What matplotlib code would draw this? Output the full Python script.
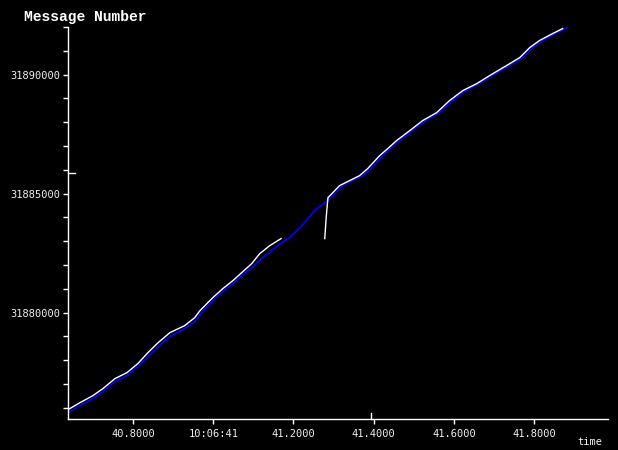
import matplotlib
matplotlib.use("Agg")
import matplotlib.pyplot as plt
from matplotlib.ticker import MultipleLocator, FuncFormatter
import matplotlib.transforms as mtransforms

# ---- data (time in seconds past 10:06:00, message number) ----
white_t = [40.638, 40.668, 40.700, 40.725, 40.755, 40.785, 40.812, 40.835, 40.860,
           40.892, 40.929, 40.954, 40.967, 40.999, 41.024, 41.049, 41.071, 41.096,
           41.116, 41.141, 41.169]
white_n = [31875924, 31876218, 31876512, 31876806, 31877227, 31877479, 31877857,
           31878277, 31878697, 31879160, 31879454, 31879790, 31880084, 31880630,
           31881008, 31881345, 31881681, 31882059, 31882479, 31882815, 31883109]

white2_t = [41.278, 41.281, 41.283, 41.286, 41.291, 41.315, 41.340, 41.365, 41.385,
            41.415, 41.435, 41.457, 41.490, 41.522, 41.557, 41.589, 41.622, 41.657,
            41.689, 41.731, 41.764, 41.789, 41.813, 41.846, 41.871]
white2_n = [31883109, 31883866, 31884286, 31884832, 31884916, 31885337, 31885547,
            31885757, 31886051, 31886597, 31886891, 31887227, 31887648, 31888068,
            31888404, 31888908, 31889328, 31889623, 31889959, 31890379, 31890715,
            31891135, 31891429, 31891724, 31891934]

blue_t = [40.638, 40.668, 40.700, 40.725, 40.755, 40.785, 40.812, 40.835, 40.860,
          40.892, 40.929, 40.954, 40.967, 40.999, 41.024, 41.049, 41.071, 41.096,
          41.124, 41.161, 41.191, 41.221, 41.253, 41.286, 41.323, 41.348, 41.373,
          41.393, 41.423, 41.442, 41.465, 41.497, 41.530, 41.564, 41.597, 41.629,
          41.664, 41.696, 41.739, 41.771, 41.796, 41.821, 41.853, 41.883]
blue_n = [31875798, 31876092, 31876386, 31876680, 31877101, 31877353, 31877731,
          31878109, 31878529, 31878992, 31879328, 31879622, 31879916, 31880504,
          31880882, 31881219, 31881555, 31881891, 31882311, 31882815, 31883152,
          31883656, 31884286, 31884706, 31885337, 31885547, 31885757, 31886051,
          31886597, 31886891, 31887227, 31887648, 31888068, 31888404, 31888908,
          31889328, 31889623, 31889959, 31890379, 31890715, 31891135, 31891429,
          31891724, 31891976]

cursor_t = 41.393
cursor_n = 31885882

x_range = (40.638, 41.984)
y_range = (31875530, 31892000)

title = "Message Number"
x_label = "time"

fig = plt.figure(figsize=(6.18, 4.5), dpi=100, facecolor="black")
ax = fig.add_axes([68/618, 31/450, 540/618, 392/450], facecolor="black")

ax.plot(blue_t, blue_n, color="#0000ff", lw=1.3)
ax.plot(white_t, white_n, color="white", lw=1.0)
ax.plot(white2_t, white2_n, color="white", lw=1.0)

ax.set_xlim(*x_range)
ax.set_ylim(*y_range)

for s in ["top", "right"]:
    ax.spines[s].set_visible(False)
for s in ["left", "bottom"]:
    ax.spines[s].set_color("white")
    ax.spines[s].set_linewidth(1.0)

ax.yaxis.set_major_locator(MultipleLocator(5000))
ax.yaxis.set_minor_locator(MultipleLocator(1000))
ax.xaxis.set_major_locator(MultipleLocator(0.2))
ax.yaxis.set_major_formatter(FuncFormatter(lambda v, p: f"{int(round(v))}"))

def xfmt(v, p):
    if abs(v - round(v)) < 1e-6:
        return f"10:06:{int(round(v)):02d}"
    return f"{v:.4f}"
ax.xaxis.set_major_formatter(FuncFormatter(xfmt))

ax.tick_params(axis="both", which="both", colors="white", direction="out",
               length=3.5, width=1.0, labelsize=7.5, pad=2)
ax.tick_params(axis="x", pad=4)
for lab in ax.get_xticklabels() + ax.get_yticklabels():
    lab.set_family("DejaVu Sans Mono")
    lab.set_color("#f0f0f0")

# cursor markers on the axes
trans_y = mtransforms.blended_transform_factory(ax.transAxes, ax.transData)
ax.plot([0, 7/540], [cursor_n, cursor_n], color="white", lw=1.0,
        transform=trans_y, clip_on=False)
trans_x = mtransforms.blended_transform_factory(ax.transData, ax.transAxes)
ax.plot([cursor_t, cursor_t], [0, 6/392], color="white", lw=1.0,
        transform=trans_x, clip_on=False)

fig.text(24/618, 1 - 17/450, title, color="white", fontsize=10.5,
         fontweight="bold", family="Liberation Mono", va="center", ha="left")
fig.text(602/618, 1 - 442/450, x_label, color="#f0f0f0", fontsize=7.5,
         family="DejaVu Sans Mono", va="center", ha="right")

fig.savefig("out.png", dpi=100, facecolor="black")
